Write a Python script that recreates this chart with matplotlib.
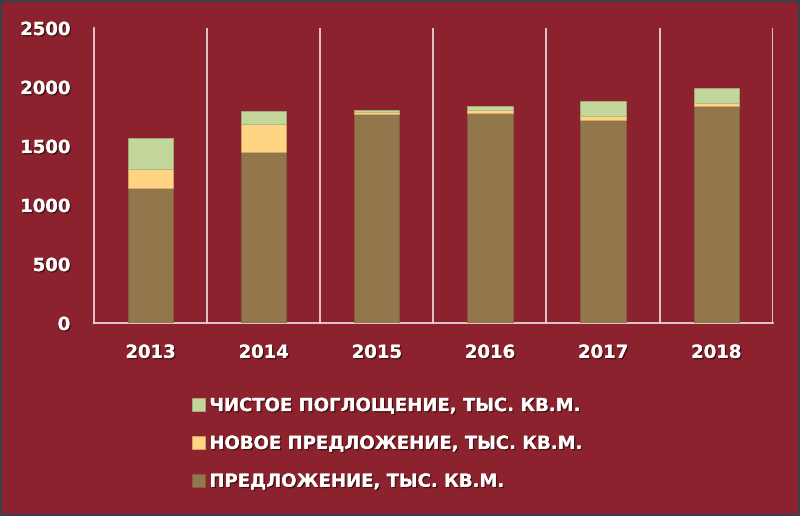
import matplotlib
matplotlib.use("Agg")
import matplotlib.pyplot as plt
import matplotlib.patheffects as pe
import numpy as np

years = ["2013", "2014", "2015", "2016", "2017", "2018"]
supply = [1142, 1452, 1775, 1777, 1720, 1842]
new_supply = [160, 232, 15, 26, 37, 20]
absorption = [262, 113, 12, 36, 122, 127]
yticks = [0, 500, 1000, 1500, 2000, 2500]

labels = ["ПРЕДЛОЖЕНИЕ, ТЫС. КВ.М.",
          "НОВОЕ ПРЕДЛОЖЕНИЕ, ТЫС. КВ.М.",
          "ЧИСТОЕ ПОГЛОЩЕНИЕ, ТЫС. КВ.М."]

bg = "#8B222D"
c_supply = "#91774B"
c_new = "#FFD583"
c_abs = "#C3D69B"

FONT = ['DejaVu Sans']
plt.rcParams['font.family'] = FONT
plt.rcParams['font.weight'] = 'bold'

fig = plt.figure(figsize=(8, 5.16), dpi=100, facecolor=bg)
fig.patches.append(plt.Rectangle((0, 0), 1, 1, transform=fig.transFigure,
                                 fill=False, edgecolor="#3a3f4a", linewidth=3, zorder=10))
ax = fig.add_axes([0.1173, 0.374, 0.8487, 0.5717])
ax.set_facecolor(bg)

x = np.arange(len(years))
w = 0.4
s = np.array(supply)
n = np.array(new_supply)
a = np.array(absorption)
b1 = ax.bar(x, s, w, color=c_supply, edgecolor="#7d6540", linewidth=0.5, zorder=3)
b2 = ax.bar(x, n, w, bottom=s, color=c_new, edgecolor="#e0b070", linewidth=0.5, zorder=3)
b3 = ax.bar(x, a, w, bottom=s + n, color=c_abs, edgecolor="#a8b880", linewidth=0.5, zorder=3)

ax.set_xlim(-0.5, len(years) - 0.5)
ax.set_ylim(0, 2500)
ax.set_yticks(yticks)
ax.set_xticks(x)
ax.set_xticklabels(years)
ax.set_xticks(np.arange(len(years)) + 0.5, minor=True)
ax.grid(False)
ax.xaxis.grid(True, which='minor', color='#f0e0e4', linewidth=1.2, zorder=1)
ax.tick_params(axis='both', which='both', length=0)
ax.tick_params(axis='x', pad=15)
ax.tick_params(axis='y', pad=17)

shadow = [pe.withSimplePatchShadow(offset=(1, -1), shadow_rgbFace='black', alpha=0.5), pe.Normal()]
for lab in ax.get_xticklabels() + ax.get_yticklabels():
    lab.set_color('white')
    lab.set_fontsize(13)
    lab.set_fontweight('bold')
    lab.set_path_effects(shadow)

for sp in ['top', 'right']:
    ax.spines[sp].set_visible(False)
for sp in ['left', 'bottom']:
    ax.spines[sp].set_color('#f0e0e4')
    ax.spines[sp].set_linewidth(1.2)

leg = fig.legend([b3, b2, b1], [labels[2], labels[1], labels[0]],
                 loc='upper left', bbox_to_anchor=(0.22, 0.262),
                 frameon=False, handlelength=0.7, handleheight=0.7,
                 handletextpad=0.25, labelspacing=1.1,
                 prop={'family': FONT, 'weight': 'bold', 'size': 13})
for t in leg.get_texts():
    t.set_color('white')
    t.set_path_effects(shadow)

fig.savefig("out.png", dpi=100, facecolor=bg)
